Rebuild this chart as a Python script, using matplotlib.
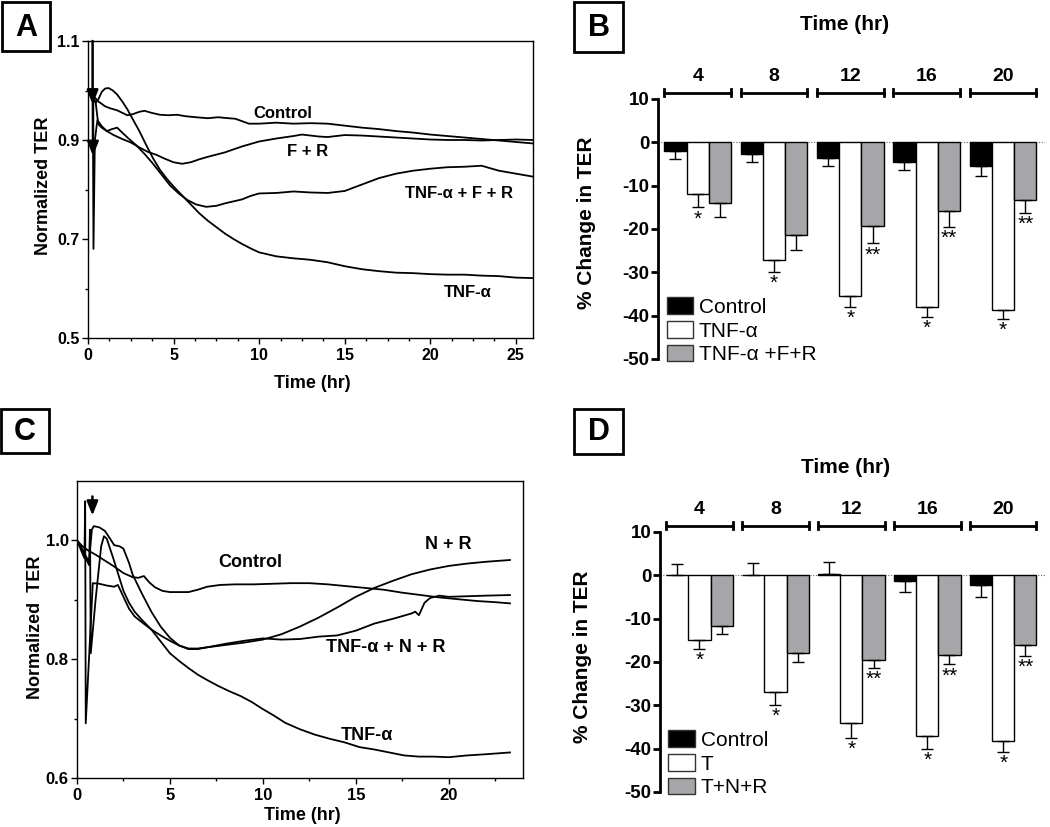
import numpy as np
import matplotlib
matplotlib.use('Agg')
import matplotlib.pyplot as plt
from matplotlib.patches import Patch, Rectangle

plt.rcParams['font.family'] = ['Liberation Sans', 'DejaVu Sans']
plt.rcParams['axes.unicode_minus'] = False

W, H = 1050, 827

#%% ---------------- panel A : TER traces ----------------
a_ctrl_t = [0, 0.3, 0.6, 1.0, 1.3, 1.7, 2.0, 2.3, 2.6, 3.0, 3.3, 3.7, 4.2, 4.7, 5.2, 5.7, 6.3, 7.0, 7.6, 8.2,
            8.6, 9.0, 9.4, 10, 11, 12, 13, 14, 15, 16, 17, 18, 19, 20, 21, 22, 23, 24, 25, 26]
a_ctrl_v = [1.000, 0.990, 0.978, 0.968, 0.964, 0.960, 0.955, 0.950, 0.952, 0.957, 0.959, 0.955, 0.951, 0.950, 0.951, 0.948, 0.946, 0.944, 0.946, 0.944,
            0.943, 0.938, 0.933, 0.933, 0.935, 0.933, 0.934, 0.933, 0.929, 0.925, 0.922, 0.918, 0.915, 0.911, 0.908, 0.905, 0.902, 0.899, 0.896, 0.893]

a_tnf_t = [0, 0.15, 0.3, 0.45, 0.6, 0.8, 1.0, 1.2, 1.45, 1.7, 2.0, 2.3, 2.6, 3.0, 3.4, 3.8, 4.2, 4.6, 5.0, 5.5,
           6.0, 6.5, 7.0, 7.5, 8.0, 8.5, 9.0, 9.5, 10, 11, 12, 13, 14, 15, 16, 17, 18, 19, 20, 21, 22, 23, 24, 25, 26]
a_tnf_v = [1.000, 0.995, 0.985, 0.975, 0.982, 0.997, 1.004, 1.005, 1.000, 0.992, 0.978, 0.962, 0.943, 0.918, 0.890, 0.863, 0.840, 0.822, 0.806, 0.788,
           0.770, 0.752, 0.737, 0.724, 0.711, 0.700, 0.690, 0.681, 0.673, 0.665, 0.661, 0.658, 0.653, 0.645, 0.639, 0.635, 0.632, 0.631, 0.629, 0.628,
           0.628, 0.626, 0.625, 0.622, 0.621]

a_fr_t = [0, 0.15, 0.28, 0.32, 0.4, 0.55, 0.8, 1.1, 1.5, 2.0, 2.5, 3.0, 3.5, 4.0, 4.5, 5.0, 5.5, 6.0, 6.5, 7.0,
          8, 9, 10, 11, 12, 12.5, 13.5, 14, 15, 16, 17, 18, 19, 20, 21, 22, 23, 24, 25, 26]
a_fr_v = [1.000, 0.995, 0.990, 0.680, 0.900, 0.940, 0.928, 0.918, 0.910, 0.902, 0.895, 0.885, 0.876, 0.870, 0.862, 0.855, 0.852, 0.855, 0.861, 0.866,
          0.875, 0.887, 0.897, 0.903, 0.908, 0.911, 0.907, 0.906, 0.910, 0.909, 0.907, 0.905, 0.903, 0.901, 0.900, 0.900, 0.899, 0.900, 0.901, 0.900]

a_tfr_t = [0, 0.15, 0.3, 0.45, 0.6, 0.8, 1.1, 1.4, 1.7, 2.0, 2.4, 2.8, 3.3, 3.8, 4.3, 4.8, 5.3, 5.8, 6.3, 6.9,
           7.5, 8, 9, 9.5, 10, 11, 12, 13, 14, 15, 16, 17, 18, 19, 20, 21, 22, 23, 24, 25, 26]
a_tfr_v = [1.000, 0.996, 0.990, 0.975, 0.932, 0.925, 0.918, 0.922, 0.925, 0.915, 0.902, 0.890, 0.872, 0.852, 0.830, 0.808, 0.792, 0.779, 0.770, 0.765,
           0.767, 0.772, 0.780, 0.787, 0.792, 0.793, 0.796, 0.794, 0.793, 0.797, 0.810, 0.823, 0.832, 0.838, 0.842, 0.845, 0.846, 0.848, 0.838, 0.832, 0.826]

a_labels = [("Control", 11.4, 0.953), ("F + R", 12.8, 0.877),
            ("TNF-\u03b1 + F + R", 21.7, 0.792), ("TNF-\u03b1", 22.2, 0.592)]
a_arrows = [(0.27, 1.10, 0.972), (0.29, 0.975, 0.868)]
a_yticks = [0.5, 0.7, 0.9, 1.1]
a_yminor = [0.6, 0.8, 1.0]
a_xminor_step = 1.25

#%% ---------------- panel C : TER traces ----------------
c_ctrl_t = [0, 0.3, 0.6, 1.0, 1.5, 2.0, 2.5, 3.0, 3.3, 3.6, 3.9, 4.2, 4.6, 5.0, 5.5, 6.0, 6.5, 7.0, 7.7, 8.5,
            9.5, 10.5, 11.5, 12.5, 13.5, 14.5, 15.5, 16.5, 17.5, 18.5, 19.5, 20.5, 21.5, 22.5, 23.3]
c_ctrl_v = [1.000, 0.990, 0.983, 0.976, 0.966, 0.956, 0.945, 0.938, 0.937, 0.940, 0.929, 0.921, 0.915, 0.913, 0.913, 0.913, 0.917, 0.922, 0.925, 0.926,
            0.926, 0.927, 0.928, 0.928, 0.926, 0.923, 0.920, 0.917, 0.912, 0.908, 0.904, 0.901, 0.898, 0.896, 0.894]

c_nr_t = [0, 0.2, 0.4, 0.44, 0.47, 0.85, 1.2, 1.6, 2.0, 2.2, 2.5, 2.8, 3.1, 3.5, 4.0, 4.5, 5.0, 5.5, 6.0, 6.5,
          7, 8, 9, 10, 11, 12, 13, 14, 15, 16, 17, 18, 19, 20, 21, 22, 23.3]
c_nr_v = [1.000, 0.985, 0.970, 1.066, 0.692, 0.928, 0.927, 0.924, 0.922, 0.925, 0.905, 0.885, 0.872, 0.862, 0.850, 0.840, 0.831, 0.823, 0.818, 0.818,
          0.820, 0.824, 0.828, 0.833, 0.842, 0.855, 0.870, 0.887, 0.905, 0.920, 0.932, 0.943, 0.951, 0.957, 0.961, 0.964, 0.967]

c_tnr_t = [0, 0.3, 0.55, 0.66, 0.72, 0.8, 0.9, 1.2, 1.5, 1.8, 2.0, 2.3, 2.5, 2.8, 3.0, 3.5, 4.0, 4.5, 5.0, 5.5,
           6.0, 6.5, 7, 8, 9, 10, 11, 12, 13, 14, 15, 16, 17, 18, 18.2, 18.4, 18.7, 19, 19.5, 20, 21, 22, 23.3]
c_tnr_v = [1.000, 0.982, 0.965, 0.958, 0.990, 1.018, 1.024, 1.022, 1.016, 1.002, 0.992, 0.990, 0.986, 0.962, 0.942, 0.910, 0.880, 0.855, 0.836, 0.823,
           0.817, 0.817, 0.820, 0.826, 0.831, 0.835, 0.833, 0.834, 0.838, 0.840, 0.848, 0.860, 0.868, 0.877, 0.880, 0.874, 0.895, 0.903, 0.907, 0.905,
           0.906, 0.907, 0.908]

c_tnf_t = [0, 0.3, 0.5, 0.65, 0.7, 0.74, 1.0, 1.3, 1.45, 1.6, 1.95, 2.2, 2.5, 2.8, 3.1, 3.5, 4.0, 4.5, 5.0, 5.5,
           6.0, 6.5, 7.0, 7.6, 8.2, 8.8, 9.4, 10.0, 10.6, 11.2, 12.0, 12.8, 13.6, 14.4, 15.2, 16.0, 16.8, 17.6, 18.4, 19.2,
           20, 21, 22, 23.3]
c_tnf_v = [1.000, 0.985, 0.972, 0.965, 1.018, 0.810, 0.900, 0.990, 1.007, 1.003, 0.970, 0.945, 0.915, 0.895, 0.880, 0.866, 0.850, 0.830, 0.810, 0.797,
           0.785, 0.774, 0.765, 0.755, 0.746, 0.738, 0.728, 0.716, 0.705, 0.693, 0.682, 0.673, 0.666, 0.660, 0.652, 0.648, 0.643, 0.638, 0.636, 0.636,
           0.635, 0.638, 0.640, 0.643]

c_labels = [("Control", 9.3, 0.962), ("N + R", 20.0, 0.993),
            ("TNF-\u03b1 + N + R", 16.6, 0.820), ("TNF-\u03b1", 15.6, 0.672)]
c_arrows = [(0.83, 1.074, 1.042)]
c_yticks = [0.6, 0.8, 1.0]
c_yminor = [0.7, 0.9]
c_xminor_step = 2.5

#%% ---------------- panels B / D : % change in TER ----------------
hours = [4, 8, 12, 16, 20]

b_ctrl = [-2.0, -2.8, -3.7, -4.5, -5.5]
b_ctrl_sem = [1.8, 1.8, 1.8, 2.0, 2.2]
b_tnf = [-11.9, -27.1, -35.5, -38.0, -38.7]
b_tnf_sem = [3.1, 2.8, 2.4, 2.3, 2.1]
b_tfr = [-14.1, -21.5, -19.4, -15.9, -13.2]
b_tfr_sem = [3.2, 3.3, 3.9, 3.6, 3.0]
b_legend = ["Control", "TNF-\u03b1", "TNF-\u03b1 +F+R"]

d_ctrl = [0.0, 0.0, 0.2, -1.3, -2.2]
d_ctrl_sem = [2.6, 2.8, 2.8, 2.6, 2.7]
d_t = [-14.9, -26.9, -34.1, -37.1, -38.2]
d_t_sem = [2.0, 3.0, 3.4, 3.0, 2.5]
d_tnr = [-11.6, -17.9, -19.6, -18.4, -16.0]
d_tnr_sem = [2.0, 2.0, 1.8, 2.1, 2.6]
d_legend = ["Control", "T", "T+N+R"]

tnf_marks = ['*', '*', '*', '*', '*']
comb_marks = ['', '', '**', '**', '**']

bar_colors = ['black', 'white', '#a6a6a9']


def px(x, y):
    return x / W, 1 - y / H


def trace_panel(ax, curves, labels, arrows, xlim, minor_step, yticks, yminor, lab_fs, tick_fs):
    for t, v in curves:
        ax.plot(t, v, color='black', lw=1.3)
    for txt, x, y in labels:
        ax.text(x, y, txt, fontsize=lab_fs, fontweight='bold', ha='center', va='center')
    for x, y0, y1 in arrows:
        ax.annotate('', xy=(x, y1), xytext=(x, y0),
                    arrowprops=dict(arrowstyle='-|>,head_length=0.7,head_width=0.28',
                                    color='black', lw=1.8, mutation_scale=12, shrinkA=0, shrinkB=0))
    ax.set_xlim(xlim)
    ax.set_ylim(yticks[0], 1.1)
    ax.set_xticks(np.arange(0, xlim[1], 5))
    ax.set_xticks(np.arange(0, xlim[1], minor_step), minor=True)
    ax.set_yticks(yticks)
    ax.set_yticks(yminor, minor=True)
    ax.tick_params(axis='x', which='major', direction='out', length=4, width=1, labelsize=tick_fs, pad=3)
    ax.tick_params(axis='x', which='minor', direction='out', length=2.5, width=1)
    ax.tick_params(axis='y', which='major', direction='out', length=4, width=1, labelsize=tick_fs, pad=2)
    ax.tick_params(axis='y', which='minor', direction='out', length=2.5, width=1)
    for lab in ax.get_xticklabels() + ax.get_yticklabels():
        lab.set_fontweight('bold')
    for s in ax.spines.values():
        s.set_linewidth(1)


def bar_panel(ax, series, sems, legend_labels, time_y):
    g = np.arange(len(hours))
    bw = 0.292
    ax.axhline(0, color='#666666', lw=0.8, ls=(0, (1, 1.5)), zorder=0)
    for k, (vals, sem, col) in enumerate(zip(series, sems, bar_colors)):
        x = g + (k - 1) * bw
        vals = np.array(vals)
        sem = np.array(sem)
        ax.bar(x, vals, width=bw, color=col, edgecolor='black', linewidth=1, zorder=2)
        lo = np.where(vals < 0, sem, 0)
        hi = np.where(vals < 0, 0, sem)
        ax.errorbar(x, vals, yerr=[lo, hi], fmt='none', ecolor='black', elinewidth=1,
                    capsize=4.5, capthick=1, zorder=3)
        if k > 0:
            marks = tnf_marks if k == 1 else comb_marks
            for xi, v, s, m in zip(x, vals, sem, marks):
                if m:
                    ax.text(xi, v - s - 0.5, m, ha='center', va='top', fontsize=15)
    # group brackets and hour labels above the plot
    half = 1.5 * bw
    for gi, h in zip(g, hours):
        ax.plot([gi - half, gi + half], [11.4, 11.4], color='black', lw=2, clip_on=False)
        for e in (gi - half, gi + half):
            ax.plot([e, e], [10.6, 12.2], color='black', lw=2, clip_on=False)
        ax.text(gi, 15.3, str(h), ha='center', va='center', fontsize=14, fontweight='bold')
    ax.text(1.93, time_y, "Time (hr)", ha='center', va='center', fontsize=15, fontweight='bold')
    ax.set_xlim(-0.52, 4.55)
    ax.set_ylim(-50, 10)
    ax.set_xticks([])
    ax.set_yticks(np.arange(-50, 11, 10))
    for sp in ('top', 'right', 'bottom'):
        ax.spines[sp].set_visible(False)
    ax.spines['left'].set_linewidth(2)
    ax.tick_params(axis='y', length=5, width=2, labelsize=13.5, pad=1)
    for lab in ax.get_yticklabels():
        lab.set_fontweight('bold')
    handles = [Patch(facecolor=c, edgecolor='#333333', linewidth=1) for c in bar_colors]
    ax.legend(handles, legend_labels, loc='lower left', bbox_to_anchor=(0.022, -0.02),
              frameon=False, borderpad=0, borderaxespad=0, handlelength=1.25, handleheight=0.85,
              handletextpad=0.3, labelspacing=0.2, fontsize=15)


fig = plt.figure(figsize=(W / 100, H / 100), dpi=100)

axA = fig.add_axes([88 / W, 1 - 338 / H, 445 / W, 297 / H])
trace_panel(axA, [(a_ctrl_t, a_ctrl_v), (a_tnf_t, a_tnf_v), (a_fr_t, a_fr_v), (a_tfr_t, a_tfr_v)],
            a_labels, a_arrows, (0, 26), a_xminor_step, a_yticks, a_yminor, 12, 11.5)

axC = fig.add_axes([77 / W, 1 - 778 / H, 446 / W, 297 / H])
trace_panel(axC, [(c_ctrl_t, c_ctrl_v), (c_nr_t, c_nr_v), (c_tnr_t, c_tnr_v), (c_tnf_t, c_tnf_v)],
            c_labels, c_arrows, (0, 24), c_xminor_step, c_yticks, c_yminor, 13, 12)

axB = fig.add_axes([658 / W, 1 - 359 / H, 387 / W, 260 / H])
bar_panel(axB, [b_ctrl, b_tnf, b_tfr], [b_ctrl_sem, b_tnf_sem, b_tfr_sem], b_legend, 27.1)

axD = fig.add_axes([660 / W, 1 - 792 / H, 385 / W, 260 / H])
bar_panel(axD, [d_ctrl, d_t, d_tnr], [d_ctrl_sem, d_t_sem, d_tnr_sem], d_legend, 24.8)

# axis titles
fig.text(*px(43, 186), "Normalized TER", rotation=90, ha='center', va='center', fontsize=13, fontweight='bold')
fig.text(*px(312, 383), "Time (hr)", ha='center', va='center', fontsize=13, fontweight='bold')
fig.text(*px(35, 627), "Normalized  TER", rotation=90, ha='center', va='center', fontsize=13, fontweight='bold')
fig.text(*px(302, 815), "Time (hr)", ha='center', va='center', fontsize=13, fontweight='bold')
fig.text(*px(587, 223), "% Change in TER", rotation=90, ha='center', va='center', fontsize=15, fontweight='bold')
fig.text(*px(582, 657), "% Change in TER", rotation=90, ha='center', va='center', fontsize=15, fontweight='bold')

# panel letters in boxes
for letter, x0, y0, x1, y1 in [("A", 2, 2, 50, 51), ("B", 574, 2, 623, 52),
                               ("C", 1, 409, 49, 453), ("D", 574, 409, 623, 454)]:
    fig.add_artist(Rectangle(px(x0, y1), (x1 - x0) / W, (y1 - y0) / H, transform=fig.transFigure,
                             fill=False, edgecolor='black', lw=2))
    fig.text(*px((x0 + x1) / 2, (y0 + y1) / 2 + 1), letter, ha='center', va='center',
             fontsize=22, fontweight='bold')

fig.savefig('out.png', dpi=100)
